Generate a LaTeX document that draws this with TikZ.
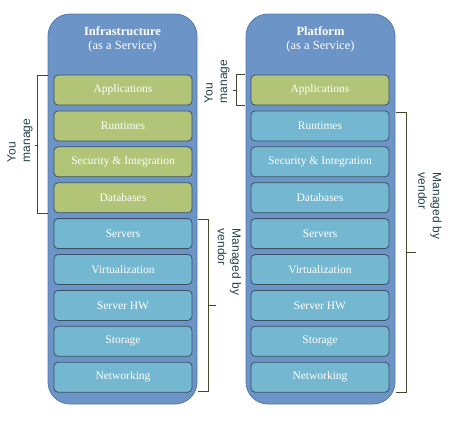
\documentclass[tikz,border=0pt]{standalone}
\usepackage{fontspec}
\setmainfont{Liberation Serif}
\newfontfamily\labelfont{Liberation Sans}
\definecolor{colblue}{HTML}{6C94C6}
\definecolor{coledge}{HTML}{5479AC}
\definecolor{boxgreen}{HTML}{B2C477}
\definecolor{boxteal}{HTML}{74B7D0}
\definecolor{boxedge}{HTML}{3C5262}
\definecolor{brkcol}{HTML}{3E4A2C}
\definecolor{lblcol}{HTML}{24414A}
\begin{document}
\begin{tikzpicture}[x=1pt,y=-1pt,
  column/.style={draw=coledge, line width=0.8pt, fill=colblue, rounded corners=22pt,
    minimum width=149pt, minimum height=390pt, inner sep=0pt},
  coltitle/.style={text=white, align=center, font=\fontsize{12.5}{14}\selectfont},
  layer/.style={draw=boxedge, line width=0.8pt, rounded corners=4pt,
    minimum width=138pt, minimum height=30pt, inner sep=0pt, text=white,
    font=\fontsize{11.5}{13}\selectfont},
  mine/.style={layer, fill=boxgreen},
  theirs/.style={layer, fill=boxteal},
  brk/.style={draw=brkcol, line width=0.8pt},
  lbl/.style={text=lblcol, align=left, inner sep=0pt,
    font=\labelfont\fontsize{12}{14.5}\selectfont}
]
\useasboundingbox (0,0) rectangle (463,426);

% columns
\node[column] (lcol) at (122.5,209) {};
\node[column] (rcol) at (320.5,209) {};
\node[coltitle] (ltitle) at (122.5,39) {\textbf{Infrastructure}\\(as a Service)};
\node[coltitle] (rtitle) at (320.5,39) {\textbf{Platform}\\(as a Service)};

% left column layers
\node[mine]   (l1) at (123,90)    {Applications};
\node[mine]   (l2) at (123,125.9) {Runtimes};
\node[mine]   (l3) at (123,161.8) {Security \& Integration};
\node[mine]   (l4) at (123,197.7) {Databases};
\node[theirs] (l5) at (123,233.6) {Servers};
\node[theirs] (l6) at (123,269.5) {Virtualization};
\node[theirs] (l7) at (123,305.4) {Server HW};
\node[theirs] (l8) at (123,341.3) {Storage};
\node[theirs] (l9) at (123,377.2) {Networking};

% right column layers
\node[mine]   (r1) at (320,90)    {Applications};
\node[theirs] (r2) at (320,125.9) {Runtimes};
\node[theirs] (r3) at (320,161.8) {Security \& Integration};
\node[theirs] (r4) at (320,197.7) {Databases};
\node[theirs] (r5) at (320,233.6) {Servers};
\node[theirs] (r6) at (320,269.5) {Virtualization};
\node[theirs] (r7) at (320,305.4) {Server HW};
\node[theirs] (r8) at (320,341.3) {Storage};
\node[theirs] (r9) at (320,377.2) {Networking};

% brackets: left column
\draw[brk] (48,75) -- (37,75) -- (37,213) -- (48,213);
\draw[brk] (37,145) -- (35,145);
\draw[brk] (198,219) -- (208,219) -- (208,391) -- (198,391);
\draw[brk] (208,305) -- (216,305);

% brackets: right column
\draw[brk] (245,74) -- (236,74) -- (236,105) -- (245,105);
\draw[brk] (236,90) -- (233,90);
\draw[brk] (396,112) -- (406,112) -- (406,392) -- (396,392);
\draw[brk] (406,252) -- (416,252);

% labels
\node[lbl, rotate=90]  (lyou)    at (20,140.5)  {You\\manage};
\node[lbl, rotate=90]  (ryou)    at (217,81.5)  {You\\manage};
\node[lbl, rotate=-90] (lvendor) at (229.5,262) {Managed by\\vendor};
\node[lbl, rotate=-90] (rvendor) at (430,206)   {Managed by\\vendor};
\end{tikzpicture}
\end{document}
